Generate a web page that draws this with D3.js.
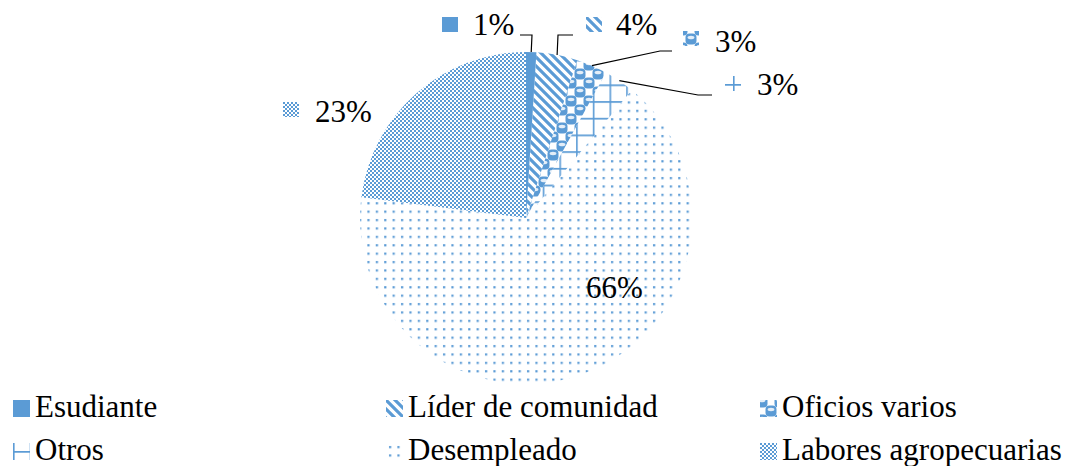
<!DOCTYPE html>
<html>
<head>
<meta charset="utf-8">
<script src="https://cdn.jsdelivr.net/npm/d3@7"></script>
<style>
  body { margin: 0; background: #fff; }
</style>
</head>
<body>
<svg id="chart" width="1074" height="466" font-family="Liberation Serif"></svg>
<script>
// Occupation shares (%)
const categories = ["Esudiante", "Líder de comunidad", "Oficios varios", "Otros", "Desempleado", "Labores agropecuarias"];
const values = [1, 4, 3, 3, 66, 23];
const fills = ["solid", "diagonal", "spheres", "grid", "dots", "checker"];

const BLUE = "#5B9BD5";
const FONT = "Liberation Serif";
const cx = 526, cy = 218, R = 166;

// Label placement for each slice: text start, baseline, marker box, leader elbow & end
const labelLayout = [
  { x: 473, y: 35,  marker: [442, 17], elbow: [532, 35], end: [520, 35] },
  { x: 616, y: 35,  marker: [586, 17], elbow: [558, 35], end: [573, 35] },
  { x: 715, y: 52,  marker: [683, 31], elbow: [660, 51], end: [672, 51] },
  { x: 757, y: 95,  marker: [725, 76], elbow: [698, 95], end: [712, 95] },
  { x: 586, y: 298, marker: null,      elbow: null,      end: null },
  { x: 315, y: 122, marker: [283, 102], elbow: null,     end: null }
];

// Legend grid
const legendCols = [13, 386, 760];
const legendRows = [417, 460];
const swatch = 17;

const svg = d3.select("#chart");
const defs = svg.append("defs");

// Pattern fills; ox/oy shift the tile origin so small swatches show a chosen part of the tile
function addPattern(id, kind, ox = 0, oy = 0) {
  if (kind === "solid") return BLUE;
  let p;
  if (kind === "diagonal") {
    p = defs.append("pattern").attr("id", id).attr("patternUnits", "userSpaceOnUse")
      .attr("x", ox).attr("y", oy).attr("width", 9).attr("height", 9);
    p.append("path").attr("d", "M-3,-3L12,12M-3,6L3,12M6,-3L12,3")
      .attr("stroke", BLUE).attr("stroke-width", 3.2);
  } else if (kind === "spheres") {
    p = defs.append("pattern").attr("id", id).attr("patternUnits", "userSpaceOnUse")
      .attr("x", ox).attr("y", oy).attr("width", 18).attr("height", 18);
    [[0, 0], [9, 9], [18, 0], [0, 18], [18, 18]].forEach(([a, b]) => {
      p.append("rect").attr("x", a - 5.5).attr("y", b - 5.5).attr("width", 11).attr("height", 11)
        .attr("rx", 4).attr("fill", BLUE);
      p.append("ellipse").attr("cx", a).attr("cy", b - 1.5).attr("rx", 3.4).attr("ry", 1.7)
        .attr("fill", "#e4eef8");
    });
  } else if (kind === "grid") {
    p = defs.append("pattern").attr("id", id).attr("patternUnits", "userSpaceOnUse")
      .attr("x", ox).attr("y", oy).attr("width", 16.7).attr("height", 16.7);
    p.append("path").attr("d", "M0.8,0V16.7M0,0.8H16.7")
      .attr("stroke", BLUE).attr("stroke-width", 1.6).attr("fill", "none");
  } else if (kind === "dots") {
    p = defs.append("pattern").attr("id", id).attr("patternUnits", "userSpaceOnUse")
      .attr("x", ox).attr("y", oy).attr("width", 8.4).attr("height", 8.4);
    p.append("rect").attr("x", 1).attr("y", 1).attr("width", 2.2).attr("height", 2.2).attr("fill", BLUE);
  } else if (kind === "checker") {
    p = defs.append("pattern").attr("id", id).attr("patternUnits", "userSpaceOnUse")
      .attr("x", ox).attr("y", oy).attr("width", 4).attr("height", 4);
    p.append("rect").attr("width", 4).attr("height", 4).attr("fill", "#fff");
    p.append("rect").attr("x", 0).attr("y", 0).attr("width", 2).attr("height", 2).attr("fill", BLUE);
    p.append("rect").attr("x", 2).attr("y", 2).attr("width", 2).attr("height", 2).attr("fill", BLUE);
  }
  return `url(#${id})`;
}

const sliceFill = fills.map((k, i) => addPattern("slice-" + i, k));

// Pie
const pie = d3.pie().value(d => d).sort(null);
const arcs = pie(values);
const arc = d3.arc().innerRadius(0).outerRadius(R);

const g = svg.append("g").attr("transform", `translate(${cx},${cy})`);
g.selectAll("path.slice")
  .data(arcs)
  .join("path")
  .attr("class", "slice")
  .attr("d", arc)
  .attr("fill", (d, i) => sliceFill[i]);

// Leader lines from the arc edge to the labels
arcs.forEach((d, i) => {
  const L = labelLayout[i];
  if (!L.elbow) return;
  const mid = (d.startAngle + d.endAngle) / 2;
  const sx = cx + R * Math.sin(mid), sy = cy - R * Math.cos(mid);
  svg.append("polyline")
    .attr("points", [[sx, sy], L.elbow, L.end].map(p => p.join(",")).join(" "))
    .attr("fill", "none").attr("stroke", "#000").attr("stroke-width", 1.2);
});

// Data labels with pattern keys
arcs.forEach((d, i) => {
  const L = labelLayout[i];
  if (L.marker) {
    const [mx, my] = L.marker;
    const mf = addPattern("lab-" + i, fills[i], mx + 8, my + 8);
    svg.append("rect").attr("x", mx).attr("y", my).attr("width", 16).attr("height", 15).attr("fill", mf);
  }
  svg.append("text").attr("x", L.x).attr("y", L.y)
    .attr("font-family", FONT).attr("font-size", 31).attr("fill", "#000")
    .text(values[i] + "%");
});

// Legend
categories.forEach((name, i) => {
  const col = i % 3, row = Math.floor(i / 3);
  const x = legendCols[col], y = legendRows[row];
  const sy = y - swatch;
  const ox = fills[i] === "grid" ? x : x + 2;
  const oy = fills[i] === "grid" ? sy + 8 : sy + 2;
  const f = addPattern("leg-" + i, fills[i], ox, oy);
  svg.append("rect").attr("x", x).attr("y", sy).attr("width", swatch).attr("height", swatch).attr("fill", f);
  svg.append("text").attr("x", x + 22).attr("y", y)
    .attr("font-family", FONT).attr("font-size", 31).attr("fill", "#000")
    .text(name);
});
</script>
</body>
</html>
